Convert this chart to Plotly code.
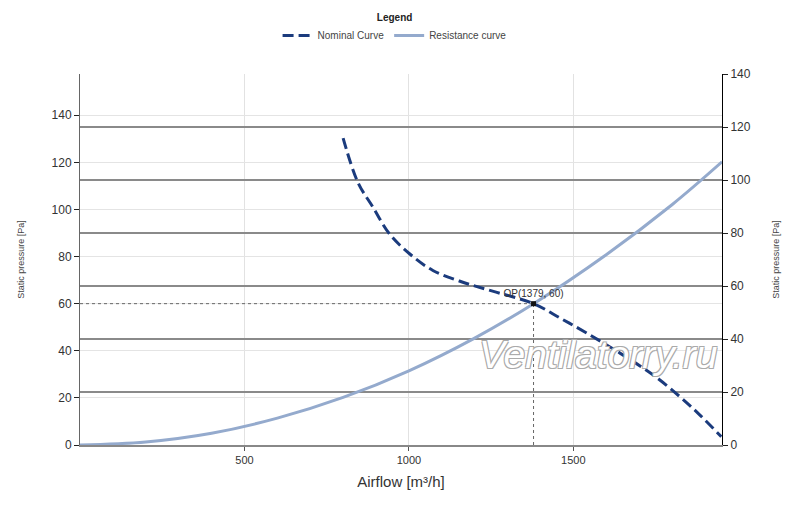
import plotly.graph_objects as go

# Data
nominal_x = [800, 845, 891, 941, 1002, 1073, 1164, 1265, 1379, 1461, 1542, 1643, 1743, 1824, 1885, 1950]
nominal_y = [130.3, 111.5, 100.9, 89.6, 81.2, 74.1, 69.1, 64.9, 60.0, 53.8, 47.4, 38.9, 29.7, 20.5, 12.7, 3.5]

resist_x = [0, 200, 400, 600, 800, 1000, 1200, 1379, 1600, 1800, 1952]
resist_y = [0, 1.3, 5.0, 11.4, 20.2, 31.5, 45.4, 60.0, 80.8, 102.0, 120.2]

op_x = 1379
op_y = 60
op_label = "OP(1379, 60)"

x_ticks = [500, 1000, 1500]
y_ticks = [0, 20, 40, 60, 80, 100, 120, 140]

FONT = "Liberation Sans, Arial, sans-serif"

fig = go.Figure()

# operating point guide lines
fig.add_trace(go.Scatter(x=[0, op_x], y=[op_y, op_y], mode="lines",
                         line=dict(color="#666", width=1, dash="dot"),
                         showlegend=False, hoverinfo="skip"))
fig.add_trace(go.Scatter(x=[op_x, op_x], y=[0, op_y], mode="lines",
                         line=dict(color="#666", width=1, dash="dot"),
                         showlegend=False, hoverinfo="skip"))

fig.add_trace(go.Scatter(x=nominal_x, y=nominal_y, mode="lines", name="Nominal Curve",
                         line=dict(color="#1B3B7D", width=3, dash="11px,5px", shape="spline")))
fig.add_trace(go.Scatter(x=resist_x, y=resist_y, mode="lines", name="Resistance curve",
                         line=dict(color="#94AACD", width=3, shape="spline")))

fig.add_trace(go.Scatter(x=[op_x], y=[op_y], mode="markers+text", text=[op_label],
                         textposition="top center",
                         textfont=dict(size=10, color="#333", family=FONT),
                         marker=dict(symbol="square", size=5, color="#111"),
                         showlegend=False))

# invisible trace on the right axis so it is drawn
fig.add_trace(go.Scatter(x=[0], y=[0], yaxis="y2", mode="markers",
                         marker=dict(opacity=0), showlegend=False, hoverinfo="skip"))

fig.add_annotation(text="<i>Ventilatorry.ru</i>", xref="paper", yref="paper",
                   x=0.807, y=0.243, xanchor="center", yanchor="middle", showarrow=False,
                   font=dict(size=39, color="white", family="Liberation Sans, Arial",
                             shadow="1px 1px 0 #aaa, -1px -1px 0 #aaa, 1px -1px 0 #aaa, -1px 1px 0 #aaa"))

fig.update_layout(
    width=800, height=507,
    margin=dict(l=69, r=86, t=66, b=70),
    paper_bgcolor="white", plot_bgcolor="white",
    font=dict(family=FONT, color="#333", size=11),
    legend=dict(orientation="h", xanchor="center", x=0.49, yref="container", y=1.0,
                yanchor="top",
                title=dict(text="<b>Legend</b>", side="top center", font=dict(size=10, color="#222")),
                font=dict(size=10, color="#444"), itemwidth=30, tracegroupgap=0),
    xaxis=dict(range=[0, 1952], tickvals=x_ticks, showgrid=True, gridcolor="#e2e2e2",
               gridwidth=1, zeroline=False, showline=True, linecolor="#888", linewidth=1.5,
               ticks="outside", ticklen=4, tickcolor="#555",
               title=dict(text="Airflow [m³/h]", font=dict(size=15, color="#333"), standoff=12),
               tickfont=dict(size=11)),
    yaxis=dict(range=[0, 157.5], tickvals=y_ticks, showgrid=True, gridcolor="#e4e4e4",
               zeroline=False, showline=True, linecolor="#666", linewidth=1,
               ticks="outside", ticklen=5, tickcolor="#222",
               title=dict(text="Static pressure [Pa]", font=dict(size=9, color="#444"), standoff=25),
               tickfont=dict(size=12)),
    yaxis2=dict(range=[0, 140], tickvals=y_ticks, overlaying="y", side="right",
                showgrid=True, gridcolor="#8a8a8a", gridwidth=1.5, zeroline=False,
                showline=True, linecolor="#000", linewidth=1,
                ticks="outside", ticklen=5, tickcolor="#222",
                title=dict(text="Static pressure [Pa]", font=dict(size=9, color="#444"), standoff=22),
                tickfont=dict(size=12)),
)

fig.write_html("out.html")
